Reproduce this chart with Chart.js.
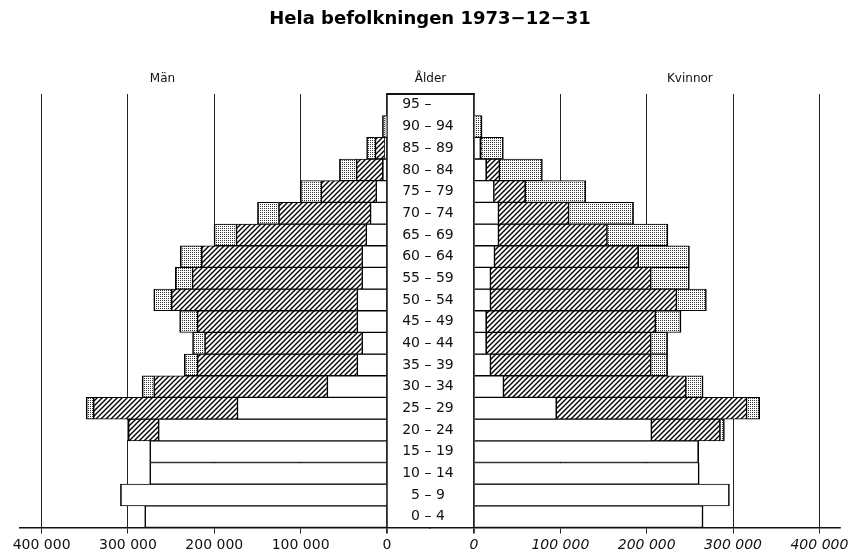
<!DOCTYPE html>
<html>
<head>
<meta charset="utf-8">
<script src="https://cdn.jsdelivr.net/npm/chart.js@4.4.1/dist/chart.umd.min.js"></script>
<style>
  html, body { margin: 0; padding: 0; background: #fff; }
  #wrap { width: 853px; height: 559px; }
</style>
</head>
<body>
<div id="wrap"><canvas id="c" width="853" height="559"></canvas></div>
<script>
// ---- Data ----
const TITLE = 'Hela befolkningen 1973\u221212\u221231';
const HEADER_MEN = 'Män';
const HEADER_AGE = 'Ålder';
const HEADER_WOMEN = 'Kvinnor';

// Age groups, youngest first (figure spaces keep the dashes aligned)
const AGE_LABELS = [
  '\u20070 – 4\u2007', '\u20075 – 9\u2007', '10 – 14', '15 – 19', '20 – 24',
  '25 – 29', '30 – 34', '35 – 39', '40 – 44', '45 – 49',
  '50 – 54', '55 – 59', '60 – 64', '65 – 69', '70 – 74',
  '75 – 79', '80 – 84', '85 – 89', '90 – 94', '95 – \u2007\u2007'
];

// Men
const MEN_UNMARRIED = [280600, 308700, 274800, 274800, 265100, 173800, 69700, 35000, 29300, 35000, 35000, 29300, 29300, 24600, 19700, 13100, 5400, 3000, 500, 0];
const MEN_MARRIED   = [0, 0, 0, 0, 34700, 166500, 200500, 185000, 182000, 185000, 215000, 196500, 185800, 150300, 106000, 63600, 30400, 11000, 800, 0];
const MEN_WIDOWED   = [0, 0, 0, 0, 800, 8100, 13400, 14700, 13900, 20100, 20100, 19300, 24300, 25400, 24300, 23600, 19300, 9600, 4000, 0];

// Women
const WOMEN_UNMARRIED = [265300, 295800, 260800, 260200, 206100, 95900, 34800, 19700, 14700, 14700, 19700, 19700, 24400, 29000, 29000, 23600, 14700, 8000, 800, 0];
const WOMEN_MARRIED   = [0, 0, 0, 0, 79300, 220400, 211100, 185600, 190600, 196000, 215400, 185600, 166300, 125600, 81200, 36300, 15400, 1000, 200, 0];
const WOMEN_WIDOWED   = [0, 0, 0, 0, 4600, 14600, 19400, 18900, 18900, 29000, 34000, 44100, 58800, 70000, 74600, 69600, 49100, 25000, 8300, 0];

const TICK_VALUES = [0, 100000, 200000, 300000, 400000];

// ---- Patterns ----
function makeHatch() {
  const s = 5;
  const c = document.createElement('canvas'); c.width = s; c.height = s;
  const g = c.getContext('2d');
  g.fillStyle = '#fff'; g.fillRect(0, 0, s, s);
  g.strokeStyle = '#000'; g.lineWidth = 1.4;
  g.beginPath();
  g.moveTo(-1, s + 1); g.lineTo(s + 1, -1);
  g.moveTo(-1, 1); g.lineTo(1, -1);
  g.moveTo(s - 1, s + 1); g.lineTo(s + 1, s - 1);
  g.stroke();
  return g.createPattern(c, 'repeat');
}
function makeDots() {
  const c = document.createElement('canvas'); c.width = 2; c.height = 2;
  const g = c.getContext('2d');
  g.fillStyle = '#fff'; g.fillRect(0, 0, 2, 2);
  g.fillStyle = '#333'; g.fillRect(0, 0, 1, 1);
  return g.createPattern(c, 'repeat');
}
const HATCH = makeHatch();
const DOTS = makeDots();

const FONT = '"DejaVu Sans", "Liberation Sans", Arial, sans-serif';
const fmt = v => String(v).replace(/\B(?=(\d{3})+(?!\d))/g, ' ');

function ds(label, data, axis, fill) {
  return {
    label, data, xAxisID: axis, yAxisID: 'y',
    backgroundColor: fill, borderColor: '#000',
    borderWidth: { top: 1, bottom: 1, left: 1.6, right: 1.6 },
    borderSkipped: 'start',
    barPercentage: 1, categoryPercentage: 1, grouped: false
  };
}

const headerPlugin = {
  id: 'headers',
  afterDraw(chart) {
    const { ctx, chartArea, scales } = chart;
    const l0 = scales.xL.getPixelForValue(0);
    const r0 = scales.xR.getPixelForValue(0);
    ctx.save();
    ctx.strokeStyle = '#111'; ctx.lineWidth = 1.8;
    ctx.beginPath(); ctx.moveTo(l0 - 0.9, chartArea.top); ctx.lineTo(r0 + 0.9, chartArea.top); ctx.stroke();
    ctx.fillStyle = '#111';
    ctx.font = '12px ' + FONT;
    ctx.textAlign = 'center'; ctx.textBaseline = 'middle';
    const y = chartArea.top - 15;
    ctx.fillText(HEADER_MEN, scales.xL.getPixelForValue(260000), y);
    ctx.fillText(HEADER_AGE, (l0 + r0) / 2, y);
    ctx.fillText(HEADER_WOMEN, scales.xR.getPixelForValue(250000), y);
    ctx.restore();
  }
};

// Both value axes share one row at the bottom (same stack), each taking half of the width
function xScale(reverse, min, max, italic) {
  return {
    type: 'linear', axis: 'x', position: 'bottom', stacked: true,
    stack: 'bottomRow', stackWeight: 1,
    reverse, min, max,
    afterBuildTicks: s => { s.ticks = TICK_VALUES.map(v => ({ value: v })); },
    afterFit: s => { s.height = 31.5; s.paddingLeft = 0; s.paddingRight = 0; s.paddingTop = 0; s.paddingBottom = 0; },
    grid: {
      display: true, drawOnChartArea: true, drawTicks: true, tickLength: 6,
      color: '#222',
      lineWidth: c => (c.tick && c.tick.value === 0) ? 1.8 : 1
    },
    border: { display: true, color: '#111', width: 1.5 },
    ticks: {
      autoSkip: false, maxRotation: 0, padding: 3, color: '#111',
      font: { family: FONT, size: 14, style: italic ? 'italic' : 'normal' },
      callback: v => fmt(v)
    }
  };
}

new Chart(document.getElementById('c'), {
  type: 'bar',
  data: {
    labels: AGE_LABELS,
    datasets: [
      ds('Ogifta män', MEN_UNMARRIED, 'xL', '#fff'),
      ds('Gifta män', MEN_MARRIED, 'xL', HATCH),
      ds('Änklingar och frånskilda män', MEN_WIDOWED, 'xL', DOTS),
      ds('Ogifta kvinnor', WOMEN_UNMARRIED, 'xR', '#fff'),
      ds('Gifta kvinnor', WOMEN_MARRIED, 'xR', HATCH),
      ds('Änkor och frånskilda kvinnor', WOMEN_WIDOWED, 'xR', DOTS)
    ]
  },
  options: {
    indexAxis: 'y',
    responsive: false,
    animation: false,
    devicePixelRatio: 1,
    events: [],
    layout: { padding: { left: 20, right: 13, top: 0, bottom: 0 } },
    plugins: {
      legend: { display: false },
      tooltip: { enabled: false },
      title: {
        display: true, text: TITLE, color: '#000',
        font: { family: FONT, size: 18, weight: 'bold', lineHeight: 1.2 },
        padding: { top: 9, bottom: 63.4 }
      }
    },
    scales: {
      xL: xScale(true, -49800, 425000, false),
      xR: xScale(false, -50950, 423850, true),
      y: {
        type: 'category', position: { xR: -23500 }, reverse: true, stacked: true,
        offset: true,
        grid: { display: false, drawTicks: false },
        border: { display: false },
        afterFit: s => { s.paddingLeft = 0; s.paddingRight = 0; s.paddingTop = 0; s.paddingBottom = 0; },
        ticks: {
          autoSkip: false, padding: 0, color: '#111',
          font: { family: FONT, size: 14 }
        }
      }
    }
  },
  plugins: [headerPlugin]
});
</script>
</body>
</html>
